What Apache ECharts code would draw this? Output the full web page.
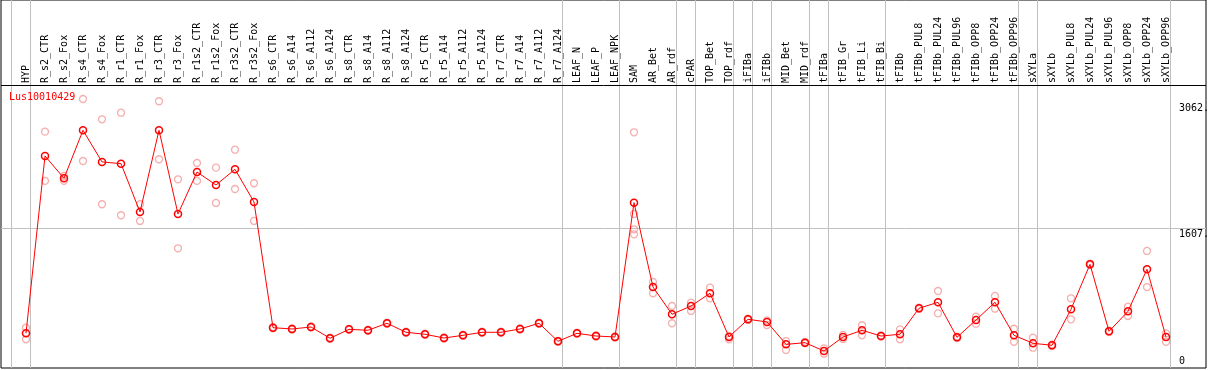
<!DOCTYPE html>
<html>
<head>
<meta charset="utf-8">
<script src="https://cdn.jsdelivr.net/npm/echarts@6/dist/echarts.min.js"></script>
<style>
html,body{margin:0;padding:0;background:#fff;}
#c{width:1209px;height:370px;}
</style>
</head>
<body>
<div id="c"></div>
<script>
// ---------- data ----------
const geneName = 'Lus10010429';
const categories = ['HYP','R_s2_CTR','R_s2_Fox','R_s4_CTR','R_s4_Fox','R_r1_CTR','R_r1_Fox','R_r3_CTR','R_r3_Fox','R_r1s2_CTR','R_r1s2_Fox','R_r3s2_CTR','R_r3s2_Fox','R_s6_CTR','R_s6_A14','R_s6_A112','R_s6_A124','R_s8_CTR','R_s8_A14','R_s8_A112','R_s8_A124','R_r5_CTR','R_r5_A14','R_r5_A112','R_r5_A124','R_r7_CTR','R_r7_A14','R_r7_A112','R_r7_A124','LEAF_N','LEAF_P','LEAF_NPK','SAM','AR_Bet','AR_rdf','cPAR','TOP_Bet','TOP_rdf','iFIBa','iFIBb','MID_Bet','MID_rdf','tFIBa','tFIB_Gr','tFIB_Li','tFIB_Bi','tFIBb','tFIBb_PUL8','tFIBb_PUL24','tFIBb_PUL96','tFIBb_OPP8','tFIBb_OPP24','tFIBb_OPP96','sXYLa','sXYLb','sXYLb_PUL8','sXYLb_PUL24','sXYLb_PUL96','sXYLb_OPP8','sXYLb_OPP24','sXYLb_OPP96'];
const meanValues = [400,2446,2188,2742,2377,2357,1800,2742,1777,2261,2111,2292,1915,465,450,473,343,446,435,516,412,389,346,377,412,412,450,516,308,400,369,358,1907,934,620,715,862,358,562,531,273,292,196,358,435,369,389,689,758,354,554,758,377,285,262,677,1196,423,654,1139,358];
const replicates = [[465,331],[2726,2158],[2215,2160],[3103,2388],[2869,1889],[2945,1762],[1889,1696],[3077,2408],[2177,1381],[2365,2158],[2311,1904],[2518,2065],[2131,1696],[472,458],[456,444],[480,466],[350,336],[452,440],[441,429],[523,509],[418,406],[396,382],[352,340],[384,370],[418,406],[418,406],[456,444],[523,509],[314,302],[407,393],[375,363],[364,352],[2719,1777,1600,1542],[992,862],[715,516],[753,658],[926,804],[369,331],[570,554],[550,496],[311,208],[300,284],[227,165],[381,335],[493,377],[376,362],[446,331],[697,681],[888,631],[362,346],[592,511],[831,684],[453,303],[350,234],[270,254],[804,562],[1205,1187],[431,415],[707,600],[1350,934],[400,303]];
const groupEnds = [-1,0,28,31,34,35,37,38,39,41,42,45,52,53,60];
const yTicks = [0,1607,3062];
const yTickLabels = ['0','1607.','3062.'];

// ---------- layout ----------
const FONT = 'DejaVu Sans Mono';
const yMax = 4245;
const headerVal = yMax * (1 - 85/368);
const lineOffset = 4.5/19;

const chart = echarts.init(document.getElementById('c'), null, {renderer:'canvas'});

const repData = [];
replicates.forEach((arr,i)=>arr.forEach(v=>repData.push([i,v])));
const meanData = meanValues.map((v,i)=>[i,v]);

const markData = groupEnds.map(b=>({xAxis: b + lineOffset, lineStyle:{color:'#c0c0c0',width:1,type:'solid'}}));
markData.push({yAxis:1607, lineStyle:{color:'#c0c0c0',width:1,type:'solid'}});
markData.push({yAxis:headerVal, lineStyle:{color:'#000',width:1,type:'solid'}});

chart.setOption({
  animation:false,
  backgroundColor:'#fff',
  title:{text:geneName,left:9,top:92,padding:0,textStyle:{color:'#ff0000',fontFamily:FONT,fontSize:10,fontWeight:'normal'}},
  grid:[
    {left:1,top:0,width:1205,height:368,show:true,borderColor:'#000',borderWidth:1,backgroundColor:'#fff'},
    {left:16.5,top:85,width:1159,height:283,show:false}
  ],
  xAxis:[
    {gridIndex:0,type:'value',min:-25/19,max:1180/19,show:false},
    {gridIndex:1,type:'category',data:categories,position:'top',boundaryGap:true,
     axisLine:{show:false},axisTick:{show:false},splitLine:{show:false},
     axisLabel:{rotate:90,interval:0,margin:2,fontFamily:FONT,fontSize:10,color:'#000'}}
  ],
  yAxis:[
    {gridIndex:0,type:'value',min:0,max:yMax,show:false},
    {gridIndex:1,type:'value',show:false}
  ],
  series:[
    {type:'scatter',xAxisIndex:0,yAxisIndex:0,data:repData,symbol:'circle',symbolSize:7,z:2,
     itemStyle:{color:'rgba(0,0,0,0)',borderColor:'#f29b9b',borderWidth:1.3},
     markLine:{silent:true,symbol:['none','none'],label:{show:false},data:markData,z:1}},
    {type:'line',name:geneName,xAxisIndex:0,yAxisIndex:0,data:meanData,symbol:'circle',symbolSize:7,z:3,
     lineStyle:{color:'#ff0000',width:1},
     itemStyle:{color:'rgba(0,0,0,0)',borderColor:'#ff0000',borderWidth:1.5}}
  ]
});

const gfx = yTicks.map((v,k)=>{
  const py = chart.convertToPixel({yAxisIndex:0}, v);
  const isZero = v === 0;
  return {type:'text',left:1179,top: isZero ? py - 12 : py + 1,z:10,
    style:{text:yTickLabels[k],fill:'#000',font:'10px "'+FONT+'"'}};
});
chart.setOption({graphic:gfx});
</script>
</body>
</html>
